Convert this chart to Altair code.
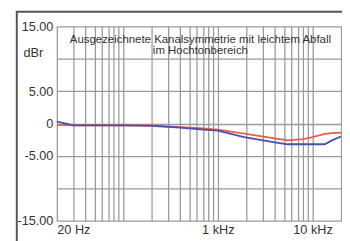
import altair as alt
import pandas as pd

freq = [20, 25, 30, 50, 100, 200, 400, 700, 1000, 1900, 4000, 5500, 8000, 10000, 13500, 16000, 20000]
red = [-0.2, -0.25, -0.3, -0.3, -0.3, -0.3, -0.55, -0.75, -0.95, -1.55, -2.3, -2.6, -2.4, -2.1, -1.6, -1.5, -1.4]
blue = [0.3, 0.0, -0.3, -0.3, -0.3, -0.35, -0.65, -0.95, -1.1, -2.1, -2.9, -3.2, -3.2, -3.2, -3.2, -2.6, -2.0]

x_grid = [20, 30, 40, 50, 60, 70, 80, 90, 100, 200, 300, 400, 500, 600, 700, 800, 900,
          1000, 2000, 3000, 4000, 5000, 6000, 7000, 8000, 9000, 10000, 20000]
y_grid = [-15, -10, -5, 0, 5, 10, 15]
title1 = "Ausgezeichnete Kanalsymmetrie mit leichtem Abfall"
title2 = "im Hochtonbereich"
unit = "dBr"

rows = []
for f, r, b in zip(freq, red, blue):
    rows.append({"f": f, "v": r, "s": "rechts"})
    rows.append({"f": f, "v": b, "s": "links"})
df = pd.DataFrame(rows)

W, H = 291, 199
FONT = "Liberation Sans"

lines = alt.Chart(df).mark_line(strokeWidth=1.8, clip=True).encode(
    x=alt.X("f:Q", scale=alt.Scale(type="log", domain=[20, 20000], nice=False),
            axis=alt.Axis(values=x_grid, title=None, ticks=False, domain=False,
                          gridColor="#9a9a9a", gridWidth=1.3, gridOpacity=1,
                          labelExpr="datum.value==20 ? '20 Hz' : datum.value==1000 ? '1 kHz' : datum.value==10000 ? '10 kHz' : ''",
                          labelFlush=True, labelPadding=3, labelFont=FONT, labelFontSize=13,
                          labelColor="#333333", labelOverlap=False)),
    y=alt.Y("v:Q", scale=alt.Scale(domain=[-15, 15], nice=False),
            axis=alt.Axis(values=y_grid, title=None, ticks=False, domain=False,
                          gridColor="#9a9a9a", gridWidth=1.3, gridOpacity=1,
                          labelExpr="datum.value==15 ? '15.00' : datum.value==5 ? '5.00' : datum.value==0 ? '0' : datum.value==-5 ? '-5.00' : datum.value==-15 ? '-15.00' : ''",
                          labelPadding=4, labelFont=FONT, labelFontSize=13,
                          labelColor="#333333", labelOverlap=False)),
    color=alt.Color("s:N", scale=alt.Scale(domain=["rechts", "links"], range=["#e5604a", "#4650b0"]), legend=None),
    order=alt.Order("f:Q"),
)

t1 = alt.Chart(pd.DataFrame({"t": [title1]})).mark_text(
    font=FONT, fontSize=11.7, color="#333333", align="center", baseline="middle"
).encode(x=alt.value(147), y=alt.value(13), text="t:N")

t2 = alt.Chart(pd.DataFrame({"t": [title2]})).mark_text(
    font=FONT, fontSize=11.7, color="#333333", align="center", baseline="middle"
).encode(x=alt.value(147), y=alt.value(24.5), text="t:N")

tu = alt.Chart(pd.DataFrame({"t": [unit]})).mark_text(
    font=FONT, fontSize=13, color="#333333", align="center", baseline="middle"
).encode(x=alt.value(-24), y=alt.value(27.5), text="t:N")

frame_left = alt.Chart(pd.DataFrame({"a": [0]})).mark_rule(color="#555555", strokeWidth=2).encode(
    x=alt.value(-41), y=alt.value(-15), y2=alt.value(H + 40))
frame_top = alt.Chart(pd.DataFrame({"a": [0]})).mark_rule(color="#555555", strokeWidth=2).encode(
    x=alt.value(-42), x2=alt.value(W + 5), y=alt.value(-15))

chart = alt.layer(lines, t1, t2, tu, frame_left, frame_top).properties(
    width=W, height=H,
    autosize=alt.AutoSizeParams(type="none"),
    padding={"left": 50, "top": 16, "right": 1, "bottom": 18},
    background="white",
).configure_view(stroke=None)

chart.save("out.html", embed_options={"renderer": "svg", "actions": False})
